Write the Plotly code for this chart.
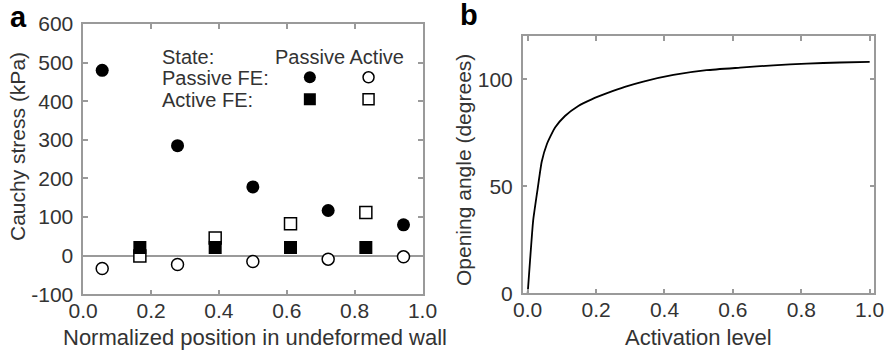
import plotly.graph_objects as go

# ---------------- data ----------------
# panel a
pos_circles = [0.056, 0.278, 0.5, 0.722, 0.944]
passive_fe_passive_state = [480, 285, 178, 117, 80]
passive_fe_active_state = [-33, -23, -15, -9, -3]
pos_squares = [0.167, 0.389, 0.611, 0.833]
active_fe_passive_state = [21, 21, 21, 21]
active_fe_active_state = [-1, 46, 83, 112]

# panel b
activation = [0, 0.007, 0.016, 0.029, 0.041, 0.056, 0.080, 0.109, 0.148, 0.187,
              0.236, 0.284, 0.338, 0.426, 0.523, 0.621, 0.718, 0.816, 0.913, 1.0]
opening_angle = [0, 15.6, 34, 48.7, 61.5, 69.7, 77.5, 82.9, 87.6, 90.7,
                 93.8, 96.5, 99.0, 102.1, 104.3, 105.5, 106.6, 107.4, 107.9, 108.2]

xticks_a = [0.0, 0.2, 0.4, 0.6, 0.8, 1.0]
yticks_a = [-100, 0, 100, 200, 300, 400, 500, 600]
xticks_b = [0.0, 0.2, 0.4, 0.6, 0.8, 1.0]
yticks_b = [0, 50, 100]

# legend key (data coords of panel a)
key_cols = [0.668, 0.841]
key_rows = [462, 405]

W, H = 888, 350
TXT = "#333333"
AX = "#9a9a9a"
FONT = "Liberation Sans, Arial, sans-serif"
FS = 21


def px(x):
    return x / W


def py(y):
    return 1 - y / H


fig = go.Figure()

# panel a markers
fig.add_trace(go.Scatter(x=pos_circles, y=passive_fe_passive_state, mode="markers",
                         marker=dict(symbol="circle", size=13, color="black"),
                         xaxis="x", yaxis="y", showlegend=False))
fig.add_trace(go.Scatter(x=pos_circles, y=passive_fe_active_state, mode="markers",
                         marker=dict(symbol="circle", size=12, color="white",
                                     line=dict(color="black", width=1.5)),
                         xaxis="x", yaxis="y", showlegend=False))
fig.add_trace(go.Scatter(x=pos_squares, y=active_fe_active_state, mode="markers",
                         marker=dict(symbol="square", size=12, color="white",
                                     line=dict(color="black", width=1.5)),
                         xaxis="x", yaxis="y", showlegend=False))
fig.add_trace(go.Scatter(x=pos_squares, y=active_fe_passive_state, mode="markers",
                         marker=dict(symbol="square", size=13, color="black"),
                         xaxis="x", yaxis="y", showlegend=False))

# legend key markers
fig.add_trace(go.Scatter(x=[key_cols[0]], y=[key_rows[0]], mode="markers",
                         marker=dict(symbol="circle", size=12, color="black"),
                         xaxis="x", yaxis="y", showlegend=False))
fig.add_trace(go.Scatter(x=[key_cols[1]], y=[key_rows[0]], mode="markers",
                         marker=dict(symbol="circle", size=11, color="white",
                                     line=dict(color="black", width=1.5)),
                         xaxis="x", yaxis="y", showlegend=False))
fig.add_trace(go.Scatter(x=[key_cols[0]], y=[key_rows[1]], mode="markers",
                         marker=dict(symbol="square", size=12, color="black"),
                         xaxis="x", yaxis="y", showlegend=False))
fig.add_trace(go.Scatter(x=[key_cols[1]], y=[key_rows[1]], mode="markers",
                         marker=dict(symbol="square", size=11, color="white",
                                     line=dict(color="black", width=1.5)),
                         xaxis="x", yaxis="y", showlegend=False))

# panel b curve
fig.add_trace(go.Scatter(x=activation, y=opening_angle, mode="lines",
                         line=dict(color="black", width=1.8, shape="spline", smoothing=0.5),
                         xaxis="x2", yaxis="y2", showlegend=False))

axis_common = dict(showline=True, linecolor=AX, linewidth=1.5, mirror="ticks",
                   ticks="inside", ticklen=5, tickcolor=AX, tickwidth=1.5,
                   showgrid=False, automargin=False,
                   tickfont=dict(family=FONT, size=FS, color=TXT))

fig.update_layout(
    width=W, height=H,
    margin=dict(l=0, r=0, t=0, b=0),
    paper_bgcolor="white", plot_bgcolor="white",
    font=dict(family=FONT, color=TXT, size=FS),
    xaxis=dict(domain=[px(83.2), px(422.5)], range=[0, 1], tickvals=xticks_a,
               ticktext=[f"{v:.1f}" for v in xticks_a], zeroline=False,
               ticklabelstandoff=-3, anchor="y", **axis_common),
    yaxis=dict(domain=[py(294.3), py(24)], range=[-100, 600], tickvals=yticks_a,
               ticktext=[str(v) for v in yticks_a],
               zeroline=True, zerolinecolor=AX, zerolinewidth=1.5,
               ticklabelstandoff=4, anchor="x", **axis_common),
    xaxis2=dict(domain=[px(522.7), px(874.3)], range=[-0.0146, 1.0135], tickvals=xticks_b,
                ticktext=[f"{v:.1f}" for v in xticks_b], zeroline=False,
                ticklabelstandoff=-3, anchor="y2", **axis_common),
    yaxis2=dict(domain=[py(293.3), py(36)], range=[0, 120.3], tickvals=yticks_b,
                ticktext=[str(v) for v in yticks_b],
                zeroline=False, ticklabelstandoff=4, anchor="x2", **axis_common),
)

ann = []


def add_text(text, x, y, xanchor="center", yanchor="middle", size=FS, bold=False, angle=0):
    ann.append(dict(text=f"<b>{text}</b>" if bold else text, x=px(x), y=py(y),
                    xref="paper", yref="paper", xanchor=xanchor, yanchor=yanchor,
                    showarrow=False, textangle=angle,
                    font=dict(family=FONT, size=size, color="black" if bold else TXT)))


add_text("a", 18, 17, size=29, bold=True)
add_text("b", 469, 15, size=29, bold=True)
add_text("Cauchy stress (kPa)", 18, 147, size=21, angle=-90)
add_text("Opening angle (degrees)", 463, 170, size=21, angle=-90)
add_text("Normalized position in undeformed wall", 255, 337, size=22)
add_text("Activation level", 698.5, 337, size=22)
add_text("State:", 160, 57, xanchor="left", size=20)
add_text("Passive Active", 273, 57, xanchor="left", size=20)
add_text("Passive FE:", 160, 78, xanchor="left", size=20)
add_text("Active FE:", 160, 100, xanchor="left", size=20)

fig.update_layout(annotations=ann)

fig.write_html("out.html", config={"displayModeBar": False},
               post_script="document.body.style.margin='0';")
